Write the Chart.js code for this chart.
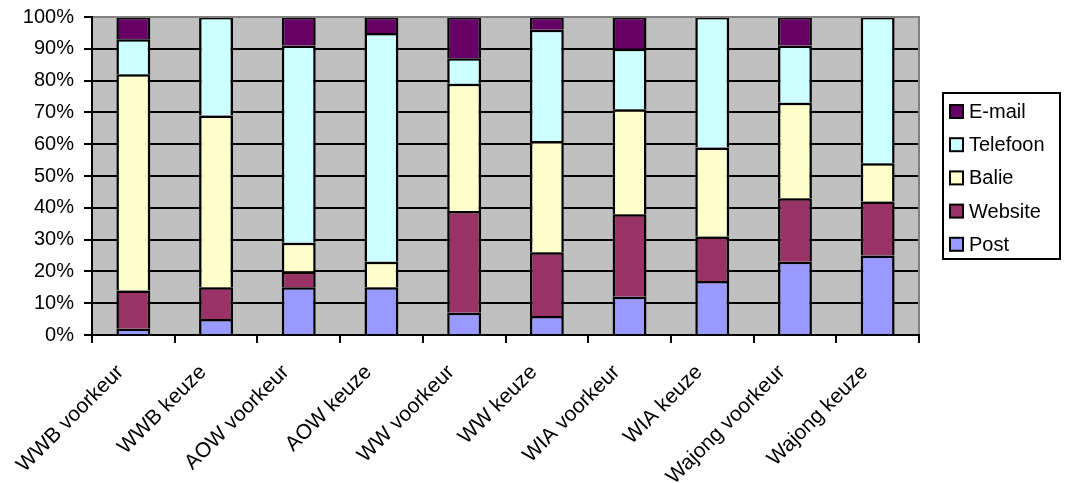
<!DOCTYPE html>
<html>
<head>
<meta charset="utf-8">
<title>Contactkanaal: voorkeur en keuze</title>
<script src="https://cdn.jsdelivr.net/npm/chart.js@4/dist/chart.umd.min.js"></script>
<style>
  html, body { margin: 0; padding: 0; background: #ffffff; }
  #wrap { width: 1069px; height: 483px; }
</style>
</head>
<body>
<div id="wrap"><canvas id="chart" width="1069" height="483"></canvas></div>
<script>
// Categories along the x axis
const categories = [
  'WWB voorkeur', 'WWB keuze', 'AOW voorkeur', 'AOW keuze', 'WW voorkeur',
  'WW keuze', 'WIA voorkeur', 'WIA keuze', 'Wajong voorkeur', 'Wajong keuze'
];

// Share of each contact channel per category (percent)
const post     = [2, 5, 15, 15, 7, 6, 12, 17, 23, 25];
const website  = [12, 10, 5, 0, 32, 20, 26, 14, 20, 17];
const balie    = [68, 54, 9, 8, 40, 35, 33, 28, 30, 12];
const telefoon = [11, 31, 62, 72, 8, 35, 19, 41, 18, 46];
const email    = [7, 0, 9, 5, 13, 4, 10, 0, 9, 0];

const seriesNames  = ['Post', 'Website', 'Balie', 'Telefoon', 'E-mail'];
const seriesValues = [post, website, balie, telefoon, email];
const seriesColors = ['#9999FF', '#993366', '#FFFFCC', '#CCFFFF', '#660066'];

// Value axis ticks (percent)
const yTickValues = [0, 10, 20, 30, 40, 50, 60, 70, 80, 90, 100];

const FONT = "'Liberation Sans', Arial, sans-serif";

// Grey plot area with a grey frame on the top and right
const plotBackground = {
  id: 'plotBackground',
  beforeDraw(chart) {
    const { ctx, chartArea: a } = chart;
    ctx.save();
    ctx.fillStyle = '#C0C0C0';
    ctx.fillRect(a.left, a.top, a.right - a.left, a.bottom - a.top);
    ctx.restore();
  },
  afterDatasetsDraw(chart) {
    const { ctx, chartArea: a } = chart;
    ctx.save();
    ctx.strokeStyle = '#808080';
    ctx.lineWidth = 2;
    ctx.beginPath();
    ctx.moveTo(a.left, a.top);
    ctx.lineTo(a.right, a.top);
    ctx.lineTo(a.right, a.bottom);
    ctx.stroke();
    ctx.restore();
  }
};

// Framed legend at the right, series listed top-down in reverse stacking order
const framedLegend = {
  id: 'framedLegend',
  afterDraw(chart) {
    const { ctx } = chart;
    const items = chart.data.datasets.map((d) => ({ label: d.label, color: d.backgroundColor })).reverse();
    ctx.save();
    ctx.fillStyle = '#ffffff';
    ctx.fillRect(943, 93, 117, 166);
    ctx.strokeStyle = '#000000';
    ctx.lineWidth = 2;
    ctx.strokeRect(943, 93, 117, 166);
    ctx.font = '20px ' + FONT;
    ctx.textBaseline = 'middle';
    ctx.textAlign = 'left';
    items.forEach((it, i) => {
      const cy = 111.5 + i * 33.2;
      ctx.fillStyle = it.color;
      ctx.fillRect(950, cy - 6.5, 13, 13);
      ctx.lineWidth = 2;
      ctx.strokeStyle = '#000000';
      ctx.strokeRect(950, cy - 6.5, 13, 13);
      ctx.fillStyle = '#000000';
      ctx.fillText(it.label, 969, cy + 1);
    });
    ctx.restore();
  }
};

const datasets = seriesNames.map((name, i) => ({
  label: name,
  data: seriesValues[i],
  backgroundColor: seriesColors[i],
  borderColor: '#000000',
  borderWidth: 2.5,
  borderSkipped: 'start',
  barPercentage: 0.41,
  categoryPercentage: 1.0
}));

new Chart(document.getElementById('chart'), {
  type: 'bar',
  data: { labels: categories, datasets },
  options: {
    responsive: false,
    animation: false,
    devicePixelRatio: 1,
    layout: { padding: { top: 17, right: 150, bottom: 0, left: 0 } },
    plugins: {
      legend: { display: false },
      tooltip: { enabled: false }
    },
    scales: {
      x: {
        stacked: true,
        offset: true,
        grid: {
          offset: true,
          drawOnChartArea: false,
          drawTicks: true,
          tickLength: 8,
          color: '#000000',
          lineWidth: 2
        },
        border: { display: true, color: '#000000', width: 2, z: 1 },
        ticks: {
          color: '#000000',
          font: { family: FONT, size: 21 },
          minRotation: 45,
          maxRotation: 45,
          autoSkip: false,
          padding: 17,
          labelOffset: -13
        },
        afterFit(scale) {
          scale.height = 148;
          scale.paddingLeft = 0;
          scale.paddingRight = 0;
        }
      },
      y: {
        stacked: true,
        min: 0,
        max: 100,
        afterBuildTicks(scale) { scale.ticks = yTickValues.map((v) => ({ value: v })); },
        grid: {
          drawTicks: true,
          tickLength: 8,
          lineWidth: 2,
          color: (c) => (c.tick && c.tick.value === 100 ? '#808080' : '#000000'),
          tickColor: '#000000'
        },
        border: { display: true, color: '#000000', width: 2, z: 1 },
        ticks: {
          color: '#000000',
          font: { family: FONT, size: 20 },
          padding: 10,
          callback: (v) => v + '%'
        },
        afterFit(scale) {
          scale.width = 92;
          scale.paddingTop = 0;
          scale.paddingBottom = 0;
        }
      }
    }
  },
  plugins: [plotBackground, framedLegend]
});
</script>
</body>
</html>
